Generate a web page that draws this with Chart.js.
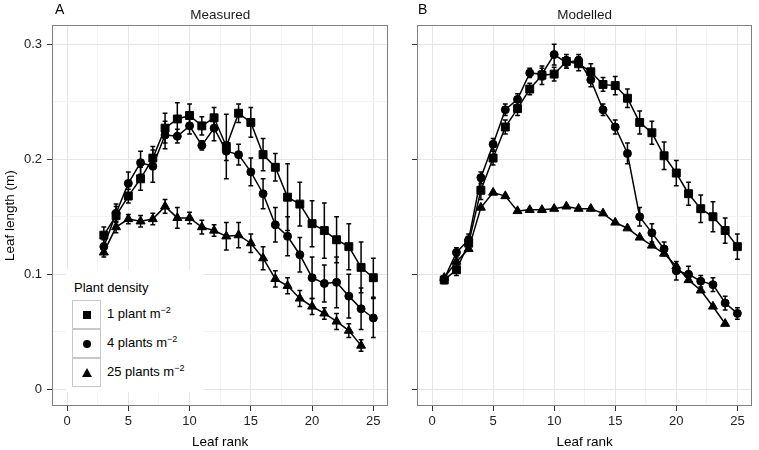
<!DOCTYPE html>
<html>
<head>
<meta charset="utf-8">
<script src="https://cdn.jsdelivr.net/npm/chart.js@4/dist/chart.umd.min.js"></script>
<style>
  body { margin: 0; width: 759px; height: 450px; background: #fff; position: relative; overflow: hidden;
         font-family: "Liberation Sans", Arial, sans-serif; }
  canvas { position: absolute; top: 0; }
  #chartA { left: 0; }
  #chartB { left: 395px; }
  .tag { position: absolute; top: 1px; font-size: 14px; line-height: 16px; color: #000; }
  #legend { position: absolute; left: 66px; top: 270px; width: 138px; height: 122px; background: #fff; color: #000; }
  #legend .ttl { position: absolute; left: 8px; top: 10px; font-size: 13px; line-height: 16px; }
  #legend .key { position: absolute; left: 6px; width: 29px; height: 29px; box-sizing: border-box;
                 border: 1.5px solid #c8c8c8; background: #fff; }
  #legend .lab { position: absolute; left: 41px; font-size: 13px; line-height: 16px; white-space: nowrap; }
  #legend sup { font-size: 9px; line-height: 0; vertical-align: 5px; }
  .mk { position: absolute; left: 50%; top: 50%; background: #000; }
  .mk.rect { width: 8px; height: 8px; margin: -4px 0 0 -4px; }
  .mk.circle { width: 8px; height: 8px; margin: -4px 0 0 -4px; border-radius: 50%; }
  .mk.triangle { width: 0; height: 0; background: none; margin: -5px 0 0 -5px;
                 border-left: 5px solid transparent; border-right: 5px solid transparent; border-bottom: 9px solid #000; }
</style>
</head>
<body>
<canvas id="chartA" width="395" height="450"></canvas>
<canvas id="chartB" width="364" height="450"></canvas>
<div class="tag" style="left:55px">A</div>
<div class="tag" style="left:418px">B</div>
<div id="legend"></div>

<script>
// leaf ranks
const measuredRank = [3, 4, 5, 6, 7, 8, 9, 10, 11, 12, 13, 14, 15, 16, 17, 18, 19, 20, 21, 22, 23, 24, 25];
const measuredRank25 = [3, 4, 5, 6, 7, 8, 9, 10, 11, 12, 13, 14, 15, 16, 17, 18, 19, 20, 21, 22, 23, 24];
const modelledRank = [1, 2, 3, 4, 5, 6, 7, 8, 9, 10, 11, 12, 13, 14, 15, 16, 17, 18, 19, 20, 21, 22, 23, 24, 25];
const modelledRank25 = [1, 2, 3, 4, 5, 6, 7, 8, 9, 10, 11, 12, 13, 14, 15, 16, 17, 18, 19, 20, 21, 22, 23, 24];

// measured leaf length (m) and error
const measured1 = [0.134, 0.151, 0.168, 0.183, 0.201, 0.227, 0.235, 0.238, 0.229, 0.236, 0.211, 0.240, 0.232, 0.204, 0.193, 0.167, 0.161, 0.144, 0.138, 0.130, 0.124, 0.106, 0.097];
const measured1Err = [0.007, 0.008, 0.006, 0.010, 0.010, 0.013, 0.014, 0.010, 0.008, 0.009, 0.028, 0.008, 0.013, 0.014, 0.012, 0.029, 0.019, 0.020, 0.024, 0.020, 0.020, 0.022, 0.017];
const measured4 = [0.124, 0.153, 0.179, 0.197, 0.194, 0.221, 0.220, 0.229, 0.212, 0.227, 0.207, 0.204, 0.189, 0.170, 0.143, 0.133, 0.117, 0.097, 0.092, 0.093, 0.081, 0.070, 0.062];
const measured4Err = [0.006, 0.008, 0.010, 0.010, 0.014, 0.012, 0.006, 0.007, 0.004, 0.011, 0.008, 0.009, 0.012, 0.013, 0.015, 0.017, 0.015, 0.018, 0.016, 0.022, 0.019, 0.018, 0.017];
const measured25 = [0.119, 0.141, 0.148, 0.146, 0.148, 0.159, 0.149, 0.149, 0.141, 0.138, 0.133, 0.134, 0.127, 0.114, 0.096, 0.090, 0.079, 0.072, 0.066, 0.059, 0.051, 0.038];
const measured25Err = [0.004, 0.005, 0.004, 0.005, 0.005, 0.006, 0.009, 0.005, 0.006, 0.005, 0.012, 0.011, 0.008, 0.010, 0.007, 0.007, 0.007, 0.007, 0.005, 0.007, 0.006, 0.005];

// modelled leaf length (m) and error
const modelled1 = [0.095, 0.104, 0.127, 0.173, 0.201, 0.228, 0.244, 0.261, 0.273, 0.274, 0.285, 0.283, 0.276, 0.265, 0.264, 0.253, 0.232, 0.223, 0.203, 0.188, 0.170, 0.157, 0.150, 0.138, 0.124];
const modelled1Err = [0.003, 0.005, 0.006, 0.008, 0.006, 0.006, 0.006, 0.005, 0.008, 0.006, 0.006, 0.006, 0.007, 0.006, 0.008, 0.008, 0.010, 0.010, 0.012, 0.011, 0.010, 0.012, 0.013, 0.011, 0.011];
const modelled4 = [0.096, 0.119, 0.130, 0.184, 0.213, 0.243, 0.252, 0.275, 0.274, 0.291, 0.284, 0.286, 0.269, 0.243, 0.228, 0.205, 0.150, 0.136, 0.122, 0.103, 0.100, 0.094, 0.091, 0.075, 0.066];
const modelled4Err = [0.002, 0.004, 0.005, 0.005, 0.005, 0.005, 0.005, 0.004, 0.005, 0.009, 0.005, 0.005, 0.006, 0.005, 0.006, 0.009, 0.008, 0.008, 0.006, 0.008, 0.007, 0.005, 0.006, 0.006, 0.005];
const modelled25 = [0.097, 0.111, 0.122, 0.158, 0.171, 0.168, 0.155, 0.156, 0.156, 0.157, 0.159, 0.157, 0.157, 0.153, 0.145, 0.140, 0.132, 0.125, 0.118, 0.107, 0.095, 0.086, 0.072, 0.057];

// axis ticks
const xTicks = [0, 2.5, 5, 7.5, 10, 12.5, 15, 17.5, 20, 22.5, 25];
const xMajor = [0, 5, 10, 15, 20, 25];
const yTicks = [0, 0.05, 0.1, 0.15, 0.2, 0.25, 0.3];
const yMajor = [0, 0.1, 0.2, 0.3];
const yTickLabels = ['0', '0.1', '0.2', '0.3'];

const densities = ['1 plant', '4 plants', '25 plants'];
const shapes = ['rect', 'circle', 'triangle'];
const radii = [5.6, 4, 5.2];

const FONT = '"Liberation Sans", Arial, sans-serif';

// vertical error bars drawn with the chart's own scales
const errorBars = {
  id: 'errorBars',
  beforeDatasetsDraw(chart) {
    const ctx = chart.ctx;
    const xs = chart.scales.x, ys = chart.scales.y;
    ctx.save();
    ctx.strokeStyle = '#000';
    ctx.lineWidth = 1.5;
    chart.data.datasets.forEach(ds => {
      if (!ds.errors) return;
      ds.data.forEach((p, i) => {
        const e = ds.errors[i];
        const x = xs.getPixelForValue(p.x);
        const y1 = ys.getPixelForValue(p.y + e);
        const y2 = ys.getPixelForValue(p.y - e);
        ctx.beginPath();
        ctx.moveTo(x, y1); ctx.lineTo(x, y2);
        ctx.moveTo(x - 2.4, y1); ctx.lineTo(x + 2.4, y1);
        ctx.moveTo(x - 2.4, y2); ctx.lineTo(x + 2.4, y2);
        ctx.stroke();
      });
    });
    ctx.restore();
  }
};

const panelBorder = {
  id: 'panelBorder',
  afterDraw(chart) {
    const a = chart.chartArea;
    const ctx = chart.ctx;
    ctx.save();
    ctx.strokeStyle = '#808080';
    ctx.lineWidth = 1;
    ctx.strokeRect(Math.round(a.left) + 0.5, Math.round(a.top) + 0.5,
                   Math.round(a.right - a.left) - 1, Math.round(a.bottom - a.top) - 1);
    ctx.restore();
  }
};

function series(i, ranks, values, errors) {
  return {
    label: densities[i],
    data: ranks.map((r, j) => ({ x: r, y: values[j] })),
    errors: errors,
    borderColor: '#000',
    backgroundColor: '#000',
    borderWidth: 1.5,
    pointStyle: shapes[i],
    pointRadius: radii[i],
    pointBorderWidth: 1,
    tension: 0,
    fill: false
  };
}

function makePanel(id, title, datasets, showY, yWidth, rightPad) {
  return new Chart(document.getElementById(id), {
    type: 'line',
    data: { datasets },
    options: {
      responsive: false,
      animation: false,
      layout: { padding: { left: 0, right: rightPad, top: 0, bottom: 0 } },
      plugins: {
        legend: { display: false },
        tooltip: { enabled: false },
        title: {
          display: true, text: title, fullSize: false, color: '#1a1a1a',
          font: { family: FONT, size: 13.5, weight: 'normal', lineHeight: 1.2 },
          padding: { top: 7, bottom: 2 }
        }
      },
      scales: {
        x: {
          type: 'linear', min: -1.23, max: 26.23,
          afterBuildTicks: s => { s.ticks = xTicks.map(v => ({ value: v })); },
          afterFit: s => { s.height = 44; },
          border: { display: false },
          grid: {
            color: c => xMajor.includes(c.tick.value) ? '#e5e5e5' : '#f3f3f3',
            tickColor: c => xMajor.includes(c.tick.value) ? '#333' : 'rgba(0,0,0,0)',
            tickLength: 5, lineWidth: 1
          },
          ticks: {
            autoSkip: false, maxRotation: 0, padding: 3, color: '#222',
            font: { family: FONT, size: 13 },
            callback: v => xMajor.includes(v) ? String(v) : ''
          },
          title: {
            display: true, text: 'Leaf rank', color: '#000',
            font: { family: FONT, size: 13.5 }, padding: { top: 0, bottom: 0 }
          }
        },
        y: {
          type: 'linear', min: -0.0145, max: 0.3165,
          afterBuildTicks: s => { s.ticks = yTicks.map(v => ({ value: v })); },
          afterFit: s => { s.width = yWidth; },
          border: { display: false },
          grid: {
            color: c => yMajor.includes(c.tick.value) ? '#e5e5e5' : '#f3f3f3',
            tickColor: c => yMajor.includes(c.tick.value) ? '#333' : 'rgba(0,0,0,0)',
            tickLength: 5, lineWidth: 1
          },
          ticks: {
            padding: 5, color: '#222',
            font: { family: FONT, size: 13 },
            callback: v => {
              const k = yMajor.indexOf(v);
              return showY && k >= 0 ? yTickLabels[k] : '';
            }
          },
          title: {
            display: showY, text: 'Leaf length (m)', color: '#000',
            font: { family: FONT, size: 13.5 }, padding: { top: 2, bottom: 0 }
          }
        }
      }
    },
    plugins: [errorBars, panelBorder]
  });
}

makePanel('chartA', 'Measured', [
  series(0, measuredRank, measured1, measured1Err),
  series(1, measuredRank, measured4, measured4Err),
  series(2, measuredRank25, measured25, measured25Err)
], true, 52, 4);

makePanel('chartB', 'Modelled', [
  series(0, modelledRank, modelled1, modelled1Err),
  series(1, modelledRank, modelled4, modelled4Err),
  series(2, modelledRank25, modelled25, null)
], false, 22, 1);

// legend (inside panel A)
const legend = document.getElementById('legend');
let html = '<div class="ttl">Plant density</div>';
densities.forEach((d, i) => {
  const top = 30 + i * 29;
  html += '<div class="key" style="top:' + top + 'px"><div class="mk ' + shapes[i] + '"></div></div>';
  html += '<div class="lab" style="top:' + (top + 6) + 'px">' + d + ' m<sup>\u22122</sup></div>';
});
legend.innerHTML = html;
</script>
</body>
</html>
